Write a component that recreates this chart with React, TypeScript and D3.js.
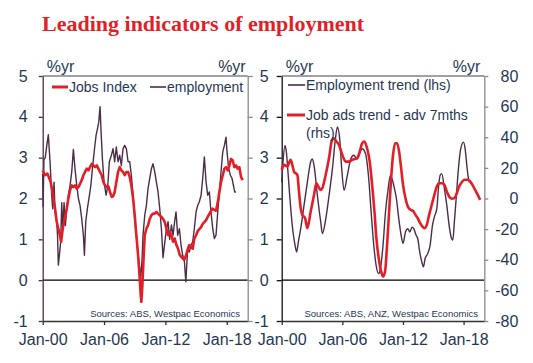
import React, { useEffect, useRef } from "react";
import * as d3 from "d3";

// left panel: Westpac-Melbourne Institute Jobs Index vs employment (%yr)
const jobsIndex: [number, number][] = [
  [2000.0, 2.69], [2000.23, 2.57], [2000.46, 2.61], [2000.65, 2.49], [2000.78, 2.4], [2000.91, 2.24],
  [2001.04, 2.0], [2001.21, 1.75], [2001.37, 1.43], [2001.53, 1.26], [2001.68, 1.1], [2001.8, 0.94],
  [2001.96, 1.26], [2002.09, 1.43], [2002.22, 1.59], [2002.35, 1.75], [2002.51, 2.0], [2002.67, 2.2],
  [2002.84, 2.32], [2003.0, 2.28], [2003.16, 2.32], [2003.33, 2.24], [2003.49, 2.28], [2003.65, 2.36],
  [2003.82, 2.45], [2003.98, 2.57], [2004.14, 2.65], [2004.31, 2.73], [2004.47, 2.69], [2004.63, 2.77],
  [2004.8, 2.85], [2004.96, 2.81], [2005.12, 2.77], [2005.29, 2.81], [2005.45, 2.73], [2005.61, 2.65],
  [2005.77, 2.57], [2005.94, 2.4], [2006.1, 2.32], [2006.26, 2.28], [2006.42, 2.3], [2006.58, 2.16],
  [2006.75, 2.04], [2006.9, 2.06], [2007.04, 2.16], [2007.2, 2.4], [2007.37, 2.65], [2007.53, 2.77],
  [2007.69, 2.69], [2007.86, 2.65], [2008.02, 2.57], [2008.18, 2.65], [2008.35, 2.65], [2008.51, 2.53],
  [2008.67, 2.32], [2008.84, 2.0], [2009.0, 1.59], [2009.16, 1.1], [2009.33, 0.61], [2009.49, 0.04],
  [2009.59, -0.37], [2009.65, -0.53], [2009.75, -0.12], [2009.88, 0.61], [2009.98, 1.1], [2010.14, 1.26],
  [2010.3, 1.34], [2010.47, 1.5], [2010.63, 1.59], [2010.79, 1.63], [2010.96, 1.63], [2011.12, 1.67],
  [2011.28, 1.63], [2011.45, 1.59], [2011.61, 1.55], [2011.77, 1.5], [2011.93, 1.43], [2012.1, 1.26],
  [2012.26, 1.1], [2012.42, 1.18], [2012.59, 1.1], [2012.75, 0.94], [2012.91, 1.02], [2013.08, 0.86],
  [2013.24, 0.77], [2013.4, 0.62], [2013.69, 0.53], [2013.85, 0.5], [2014.02, 0.61], [2014.18, 0.75],
  [2014.34, 0.86], [2014.5, 0.8], [2014.67, 0.77], [2014.83, 1.02], [2015.0, 1.1], [2015.16, 1.2],
  [2015.32, 1.25], [2015.49, 1.3], [2015.65, 1.38], [2015.81, 1.42], [2015.98, 1.47], [2016.14, 1.55],
  [2016.3, 1.62], [2016.46, 1.7], [2016.63, 1.75], [2016.79, 1.72], [2016.95, 1.7], [2017.12, 1.9],
  [2017.28, 2.16], [2017.44, 2.4], [2017.61, 2.57], [2017.77, 2.73], [2017.93, 2.77], [2018.1, 2.69],
  [2018.26, 2.81], [2018.42, 2.97], [2018.58, 2.93], [2018.75, 2.77], [2018.91, 2.81], [2019.07, 2.73],
  [2019.23, 2.77], [2019.4, 2.53], [2019.56, 2.45],
];

const employment: [number, number][] = [
  [2000.0, 2.6], [2000.04, 1.8], [2000.12, 2.95], [2000.25, 3.0], [2000.4, 3.3], [2000.55, 3.56],
  [2000.72, 2.9], [2000.88, 2.08], [2000.98, 1.75], [2001.11, 2.4], [2001.21, 1.67], [2001.37, 1.43],
  [2001.45, 1.1], [2001.53, 0.37], [2001.63, 0.6], [2001.76, 0.94], [2001.86, 1.9], [2001.96, 1.26],
  [2002.09, 1.9], [2002.22, 1.34], [2002.35, 1.75], [2002.51, 2.08], [2002.67, 2.3], [2002.84, 2.65],
  [2003.0, 3.2], [2003.16, 2.73], [2003.33, 2.32], [2003.49, 2.0], [2003.65, 1.83], [2003.82, 1.5],
  [2003.98, 1.1], [2004.08, 0.61], [2004.21, 1.43], [2004.37, 1.75], [2004.57, 2.08], [2004.7, 2.3],
  [2004.89, 2.8], [2005.06, 3.2], [2005.22, 3.55], [2005.35, 3.7], [2005.48, 3.87], [2005.61, 4.25],
  [2005.71, 3.63], [2005.84, 2.97], [2006.0, 2.4], [2006.2, 2.08], [2006.36, 2.3], [2006.52, 2.9],
  [2006.72, 3.06], [2006.88, 3.22], [2007.04, 2.9], [2007.2, 3.26], [2007.37, 2.9], [2007.53, 3.06],
  [2007.69, 2.81], [2007.86, 3.22], [2008.02, 3.3], [2008.18, 3.22], [2008.35, 2.9], [2008.51, 2.9],
  [2008.67, 2.57], [2008.84, 2.08], [2009.0, 1.5], [2009.16, 1.1], [2009.33, 0.61], [2009.49, 0.29],
  [2009.59, 0.04], [2009.72, 0.53], [2009.81, 1.1], [2009.98, 1.59], [2010.14, 1.83], [2010.3, 2.24],
  [2010.47, 2.49], [2010.63, 2.73], [2010.79, 2.85], [2010.96, 2.65], [2011.12, 2.4], [2011.28, 2.16],
  [2011.45, 1.75], [2011.61, 1.26], [2011.77, 0.55], [2011.93, 0.9], [2012.1, 1.26], [2012.26, 1.43],
  [2012.42, 1.0], [2012.59, 1.35], [2012.75, 1.1], [2012.91, 1.45], [2013.04, 1.67], [2013.2, 1.1],
  [2013.37, 1.26], [2013.53, 0.86], [2013.69, 0.61], [2013.86, 0.45], [2014.0, -0.04], [2014.18, 0.77],
  [2014.34, 0.69], [2014.51, 0.86], [2014.67, 0.94], [2014.83, 1.26], [2015.0, 1.67], [2015.16, 1.83],
  [2015.32, 1.92], [2015.49, 2.08], [2015.65, 2.49], [2015.81, 3.02], [2015.98, 2.4], [2016.14, 2.08],
  [2016.3, 2.16], [2016.46, 1.67], [2016.63, 1.26], [2016.79, 1.02], [2016.95, 1.1], [2017.12, 1.67],
  [2017.28, 2.16], [2017.44, 2.65], [2017.61, 3.14], [2017.77, 3.3], [2017.93, 3.5], [2018.03, 3.14],
  [2018.19, 2.73], [2018.36, 2.57], [2018.52, 2.49], [2018.65, 2.32], [2018.78, 2.16], [2018.91, 2.16],
];

// right panel: employment trend (lhs, %yr) and job ads trend advanced 7 months (rhs, %yr)
const employmentTrend: [number, number][] = [
  [2000.0, 2.4], [2000.13, 2.9], [2000.33, 3.3], [2000.46, 3.14], [2000.62, 2.65], [2000.79, 2.08],
  [2000.95, 1.59], [2001.12, 1.18], [2001.32, 0.86], [2001.48, 0.69], [2001.65, 0.94], [2001.88, 1.26],
  [2002.21, 1.83], [2002.54, 2.4], [2002.87, 2.9], [2003.03, 2.97], [2003.2, 2.81], [2003.53, 2.08],
  [2003.86, 1.43], [2004.03, 1.14], [2004.36, 1.5], [2004.69, 2.08], [2005.02, 2.73], [2005.28, 3.38],
  [2005.51, 3.75], [2005.74, 3.46], [2005.94, 2.73], [2006.17, 2.2], [2006.5, 2.57], [2006.83, 2.97],
  [2007.13, 3.06], [2007.46, 2.97], [2007.96, 3.22], [2008.29, 3.1], [2008.61, 2.49], [2008.85, 1.67],
  [2009.11, 0.86], [2009.34, 0.37], [2009.6, 0.16], [2009.77, 0.29], [2010.03, 0.86], [2010.27, 1.67],
  [2010.5, 2.16], [2010.76, 2.57], [2011.09, 2.32], [2011.35, 2.0], [2011.59, 1.5], [2011.82, 1.1],
  [2012.01, 0.9], [2012.25, 1.18], [2012.48, 1.26], [2012.67, 1.18], [2012.91, 1.3], [2013.07, 1.26],
  [2013.3, 1.1], [2013.46, 1.02], [2013.66, 0.69], [2013.86, 0.45], [2014.03, 0.33], [2014.19, 0.53],
  [2014.45, 0.65], [2014.69, 0.86], [2014.92, 1.34], [2015.11, 1.55], [2015.35, 1.75], [2015.51, 2.24],
  [2015.68, 2.57], [2015.84, 2.61], [2016.1, 2.24], [2016.34, 1.83], [2016.57, 1.34], [2016.76, 1.06],
  [2016.93, 0.98], [2017.09, 1.43], [2017.29, 2.08], [2017.49, 2.73], [2017.72, 3.22], [2017.99, 3.38],
  [2018.15, 3.22], [2018.32, 2.81], [2018.48, 2.49], [2018.58, 2.4],
];

const jobAds: [number, number][] = [
  [2000.0, 18.7], [2000.23, 22.0], [2000.56, 20.9], [2000.89, 25.2], [2001.22, 17.6], [2001.55, 15.4],
  [2001.71, 4.6], [2001.88, -6.3], [2002.04, -10.7], [2002.31, -12.8], [2002.54, -19.4], [2002.87, -8.5],
  [2003.2, 2.4], [2003.43, 10.0], [2003.65, 7.5], [2003.86, 5.6], [2004.02, 6.7], [2004.35, 15.4],
  [2004.68, 26.3], [2004.95, 37.5], [2005.15, 39.3], [2005.41, 37.2], [2005.67, 35.0], [2006.0, 28.5],
  [2006.33, 24.1], [2006.66, 24.1], [2006.97, 25.2], [2007.46, 26.3], [2007.72, 30.6], [2007.96, 36.1],
  [2008.19, 37.2], [2008.45, 32.8], [2008.71, 24.1], [2008.95, 8.9], [2009.18, -8.5], [2009.37, -25.9],
  [2009.6, -38.9], [2009.84, -47.6], [2010.03, -50.9], [2010.23, -47.6], [2010.43, -30.2], [2010.63, -8.5],
  [2010.83, 13.2], [2011.02, 28.5], [2011.22, 36.1], [2011.42, 36.1], [2011.62, 30.6], [2011.82, 19.8],
  [2012.01, 8.9], [2012.25, 0.2], [2012.48, -5.2], [2012.74, -7.4], [2013.0, -8.1], [2013.24, -10.7],
  [2013.46, -12.8], [2013.7, -16.1], [2013.93, -18.3], [2014.12, -19.4], [2014.36, -17.2], [2014.59, -10.7],
  [2014.85, -4.1], [2015.11, 2.4], [2015.35, 7.8], [2015.58, 10.0], [2015.84, 10.0], [2016.1, 8.9],
  [2016.34, 4.6], [2016.57, 1.3], [2016.83, -0.2], [2017.09, 0.2], [2017.33, 3.5], [2017.56, 7.8],
  [2017.82, 10.6], [2018.08, 12.2], [2018.35, 12.2], [2018.65, 11.1], [2018.88, 8.9], [2019.14, 5.6],
  [2019.4, 2.4], [2019.64, -0.9],
];

const xTicks = [2000, 2006, 2012, 2018];
const lhsTicks = [-1, 0, 1, 2, 3, 4, 5];
const rhsTicks = [-80, -60, -40, -20, 0, 20, 40, 60, 80];

const RED = "#e41e26";
const DARK = "#4b2d48";
const TEXT = "#263754";
const FONT = "Liberation Sans, Arial, sans-serif";

export default function App() {
  const ref = useRef<SVGSVGElement>(null);

  useEffect(() => {
    const svg = d3.select(ref.current);
    svg.selectAll("*").remove();

    const top = 76;
    const bottom = 321;
    const panels = [
      { x0: 42.7, x1: 247.7 },
      { x0: 281.7, x1: 484.3 },
    ];

    // TITLE
    svg.append("text")
      .attr("x", 42)
      .attr("y", 31)
      .attr("font-family", "Liberation Serif, Times New Roman, serif")
      .attr("font-weight", "bold")
      .attr("font-size", "22px")
      .attr("fill", RED)
      .text("Leading indicators of employment");

    const yL = d3.scaleLinear().domain([-1, 5]).range([bottom, top]);
    const yR = d3.scaleLinear().domain([-80, 80]).range([bottom, top]);
    const fmtX = (d: any) => "Jan-" + String(d).slice(2);
    const fmtY = (d: any) => String(d); // plain hyphen minus, as in the original

    const styleAxis = (g: any, color: string) => {
      g.select(".domain").attr("stroke", color).attr("stroke-width", 1.3);
      g.selectAll(".tick line").attr("stroke", color).attr("stroke-width", 1.3);
      g.selectAll("text")
        .attr("fill", TEXT)
        .attr("font-family", FONT)
        .attr("font-size", "16px");
    };

    panels.forEach((p, i) => {
      const x = d3.scaleLinear().domain([2000, 2020.05]).range([p.x0, p.x1]);
      const g = svg.append("g");

      // top border and zero line
      g.append("line")
        .attr("x1", p.x0).attr("x2", p.x1)
        .attr("y1", top).attr("y2", top)
        .attr("stroke", "#444").attr("stroke-width", 1.2);

      g.append("line")
        .attr("x1", p.x0).attr("x2", p.x1)
        .attr("y1", yL(0)).attr("y2", yL(0))
        .attr("stroke", "#000").attr("stroke-width", 1.4);

      // AXES
      const bx = g.append("g")
        .attr("transform", `translate(0,${bottom})`)
        .call(d3.axisBottom(x).tickValues(xTicks).tickFormat(fmtX).tickSize(4).tickSizeOuter(0).tickPadding(9));
      styleAxis(bx, "#333");

      if (i === 0) {
        const la = g.append("g")
          .attr("transform", `translate(${p.x0},0)`)
          .call(d3.axisLeft(yL).tickValues(lhsTicks).tickFormat(fmtY).tickSize(4).tickSizeOuter(0).tickPadding(11));
        styleAxis(la, DARK);

        const ra = g.append("g")
          .attr("transform", `translate(${p.x1},0)`)
          .call(d3.axisRight(yL).tickValues(lhsTicks).tickSize(5).tickSizeOuter(0).tickFormat(() => ""));
        styleAxis(ra, "#8a8a8a");
      } else {
        const la = g.append("g")
          .attr("transform", `translate(${p.x0},0)`)
          .call(d3.axisLeft(yL).tickValues(lhsTicks).tickFormat(fmtY).tickSize(5).tickSizeOuter(0).tickPadding(8));
        styleAxis(la, "#111");

        const ra = g.append("g")
          .attr("transform", `translate(${p.x1},0)`)
          .call(d3.axisRight(yR).tickValues(rhsTicks).tickFormat(fmtY).tickSize(4).tickSizeOuter(0));
        styleAxis(ra, "#8a8a8a");
        ra.selectAll("text").attr("text-anchor", "end").attr("x", 34);
      }

      // %yr labels
      g.append("text")
        .attr("x", p.x0 + 4).attr("y", 72)
        .attr("font-family", FONT).attr("font-size", "16px").attr("fill", TEXT)
        .text("%yr");
      g.append("text")
        .attr("x", i === 0 ? p.x1 - 2 : p.x1 - 4).attr("y", 72)
        .attr("text-anchor", "end")
        .attr("font-family", FONT).attr("font-size", "16px").attr("fill", TEXT)
        .text("%yr");

      // LINES
      if (i === 0) {
        const line = d3.line<[number, number]>().x(d => x(d[0])).y(d => yL(d[1]));
        g.append("path").datum(employment)
          .attr("d", line).attr("fill", "none")
          .attr("stroke", DARK).attr("stroke-width", 1.4).attr("stroke-linejoin", "round");
        g.append("path").datum(jobsIndex)
          .attr("d", line).attr("fill", "none")
          .attr("stroke", RED).attr("stroke-width", 2.6).attr("stroke-linejoin", "round");
      } else {
        const lineL = d3.line<[number, number]>().x(d => x(d[0])).y(d => yL(d[1])).curve(d3.curveMonotoneX);
        const lineR = d3.line<[number, number]>().x(d => x(d[0])).y(d => yR(d[1])).curve(d3.curveMonotoneX);
        g.append("path").datum(employmentTrend)
          .attr("d", lineL).attr("fill", "none")
          .attr("stroke", DARK).attr("stroke-width", 1.4);
        g.append("path").datum(jobAds)
          .attr("d", lineR).attr("fill", "none")
          .attr("stroke", RED).attr("stroke-width", 2.6);
      }
    });

    // LEGENDS
    const legendItem = (x1: number, x2: number, y: number, color: string, w: number, label: string[]) => {
      svg.append("line")
        .attr("x1", x1).attr("x2", x2).attr("y1", y).attr("y2", y)
        .attr("stroke", color).attr("stroke-width", w);
      label.forEach((t, k) => {
        svg.append("text")
          .attr("x", x2 + 1).attr("y", y + 5 + k * 18)
          .attr("font-family", FONT).attr("font-size", "14px").attr("fill", TEXT)
          .text(t);
      });
    };
    legendItem(52, 68, 87, RED, 3, ["Jobs Index"]);
    legendItem(150, 166, 87, DARK, 1.6, ["employment"]);
    legendItem(288, 305, 85, DARK, 1.6, ["Employment trend (lhs)"]);
    legendItem(287, 305, 115, RED, 3, ["Job ads trend - adv 7mths", "(rhs)"]);

    // SOURCES
    svg.append("text")
      .attr("x", 240).attr("y", 317).attr("text-anchor", "end")
      .attr("font-family", FONT).attr("font-size", "9.5px").attr("fill", TEXT)
      .text("Sources: ABS, Westpac Economics");
    svg.append("text")
      .attr("x", 478).attr("y", 317).attr("text-anchor", "end")
      .attr("font-family", FONT).attr("font-size", "9.5px").attr("fill", TEXT)
      .text("Sources: ABS, ANZ, Westpac Economics");
  }, []);

  return (
    <div style={{ position: "absolute", left: 0, top: 0 }}>
      <svg ref={ref} width={533} height={363} style={{ display: "block", background: "#fff" }} />
    </div>
  );
}
